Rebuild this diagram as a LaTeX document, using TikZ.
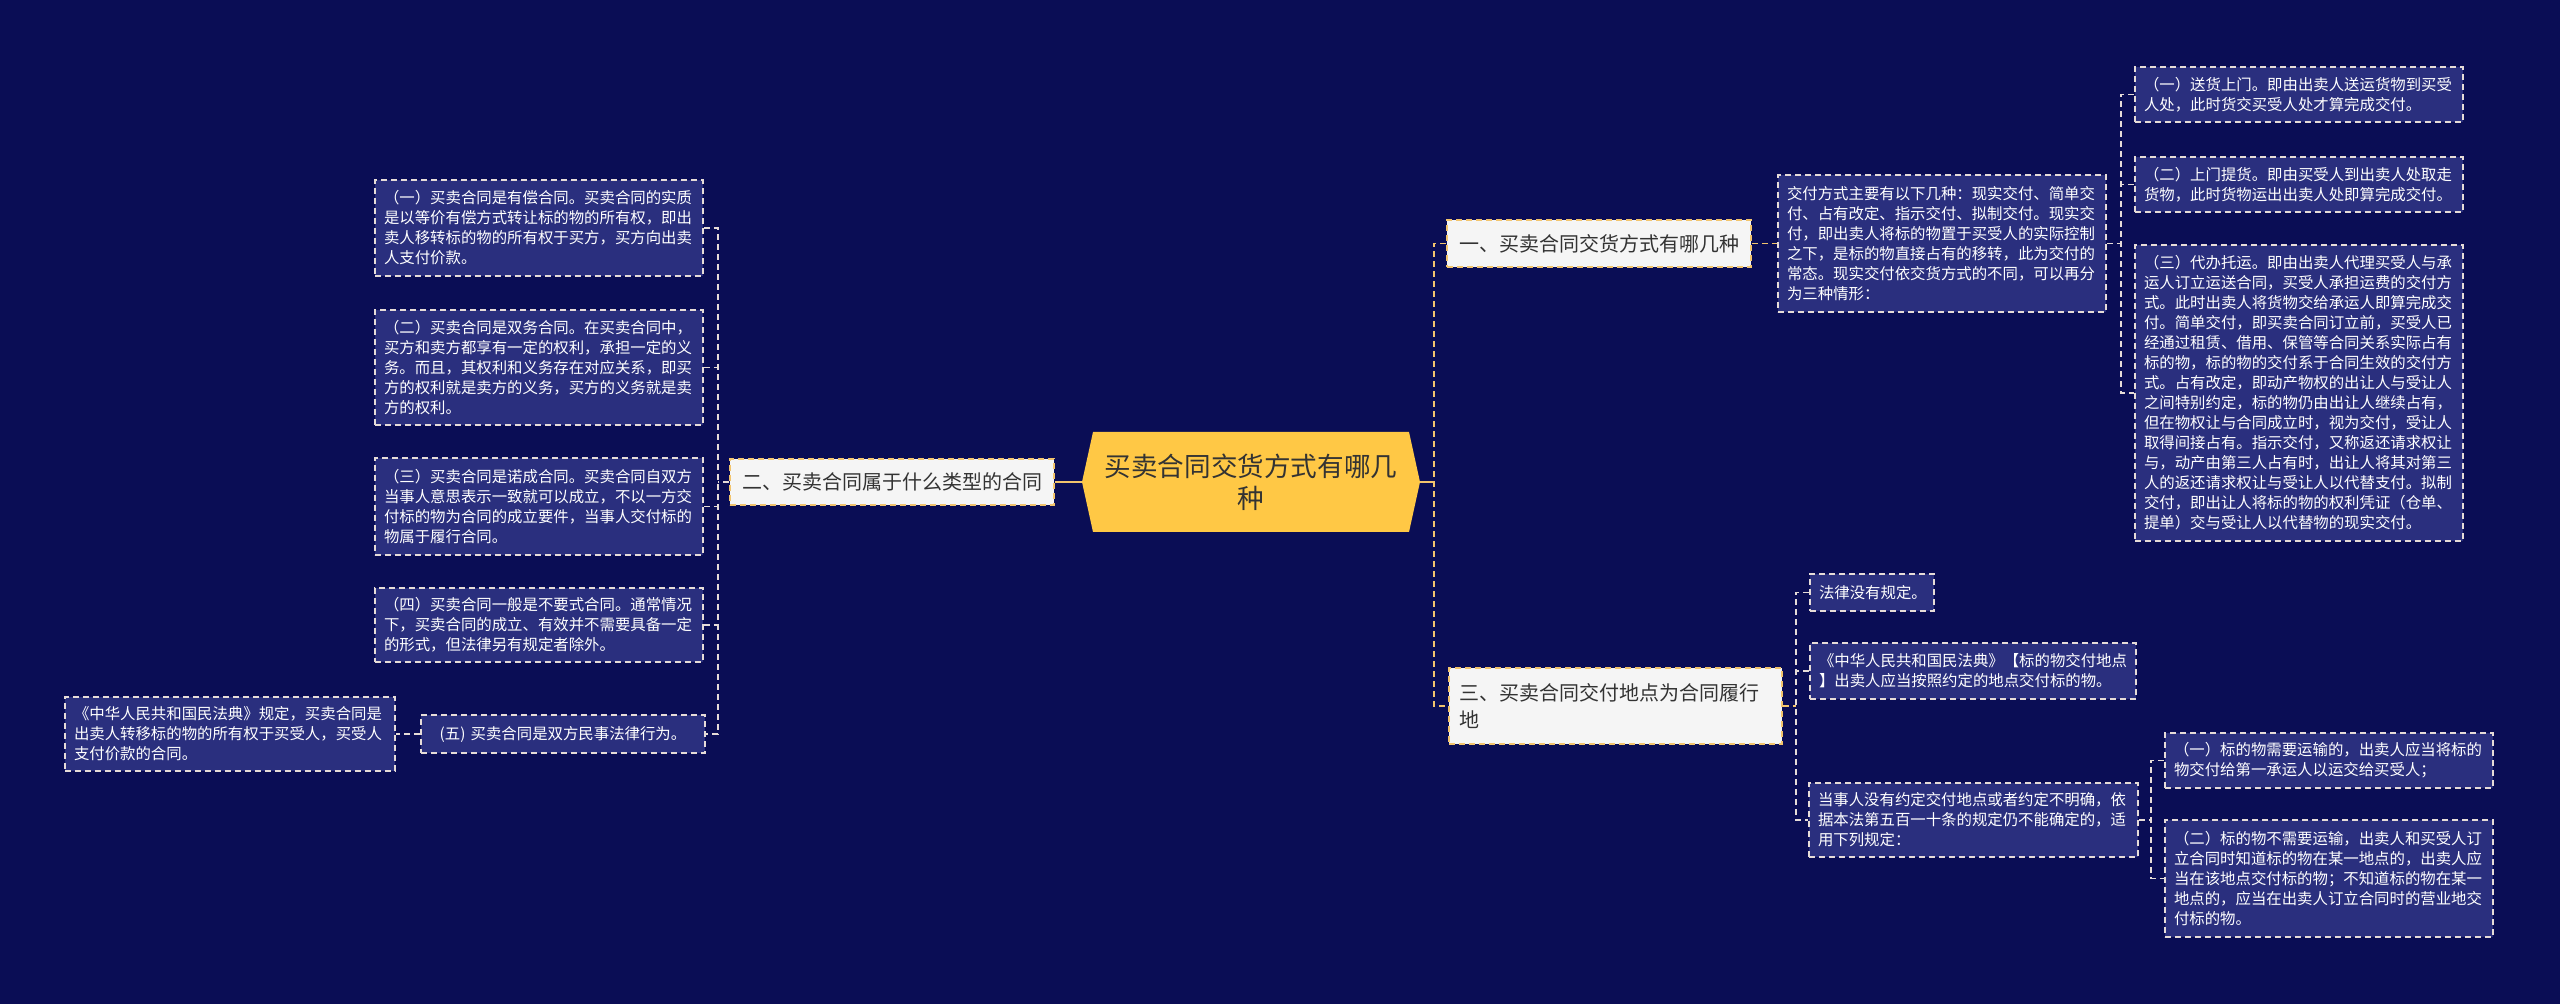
\documentclass[tikz,border=0pt]{standalone}
\usepackage{fontspec}
\newfontfamily\cjk{Noto Sans CJK SC}
\definecolor{bgc}{HTML}{0A0D55}
\definecolor{leaffill}{HTML}{2A2F7E}
\definecolor{leafline}{HTML}{E6DCD8}
\definecolor{gold}{HTML}{F2C46D}
\definecolor{centerfill}{HTML}{FFC845}
\definecolor{mainfill}{HTML}{F5F5F5}
\definecolor{darktext}{HTML}{333333}
\tikzset{
 leaf/.style={draw=leafline, dash pattern=on 3pt off 2pt, line width=0.8pt, fill=leaffill, text=white, font=\cjk\fontsize{7.7}{10}\selectfont, align=left, inner xsep=4.5pt, inner ysep=0pt},
 leafc/.style={leaf, align=center},
 mainbox/.style={draw=gold, dash pattern=on 3pt off 2pt, line width=0.8pt, fill=mainfill, text=darktext, font=\cjk\fontsize{10}{13.5}\selectfont, align=left, inner xsep=5pt, inner ysep=0pt},
 mainc/.style={mainbox, align=center},
 lconn/.style={draw=leafline, dash pattern=on 3pt off 2pt, line width=0.8pt},
 gconn/.style={draw=gold, dash pattern=on 3pt off 2pt, line width=0.9pt},
 cconn/.style={draw=gold, line width=1pt},
}
\newcommand\leafnode[7]{%
 \pgfmathsetmacro\lnW{(#5-#3)*0.5}%
 \pgfmathsetmacro\lnH{(#6-#4)*0.5}%
 \pgfmathsetmacro\lnT{(#5-#3)*0.5-9}%
 \node[#1, minimum width=\lnW pt, minimum height=\lnH pt, text width=\lnT pt] (#2) at ({(#3+#5)/2},{(#4+#6)/2}) {#7};%
}
\begin{document}
\begin{tikzpicture}[x=0.5pt,y=-0.5pt]
\useasboundingbox (0,0) rectangle (2560,1004);
\fill[bgc] (0,0) rectangle (2560,1004);

% central node
\fill[centerfill] (1093,432) -- (1409,432) -- (1420,482) -- (1409,532) -- (1093,532) -- (1082,482) -- cycle;
\node[font=\cjk\fontsize{13.3}{16}\selectfont, text=darktext, align=center, minimum width=169pt, minimum height=50pt, inner sep=0pt] (center) at (1251,482) {买卖合同交货方式有哪几\\种};

% main nodes
\leafnode{mainc}{two}{731}{459}{1053}{505}{二、买卖合同属于什么类型的合同}
\leafnode{mainc}{one}{1448}{220}{1750}{267}{一、买卖合同交货方式有哪几种}
\leafnode{mainbox}{three}{1450}{668}{1781}{744}{三、买卖合同交付地点为合同履行\\地}

% left leaves
\leafnode{leaf}{b1}{375}{180}{703}{276}{（一）买卖合同是有偿合同。买卖合同的实质\\是以等价有偿方式转让标的物的所有权，即出\\卖人移转标的物的所有权于买方，买方向出卖\\人支付价款。}
\leafnode{leaf}{b2}{375}{310}{703}{425}{（二）买卖合同是双务合同。在买卖合同中，\\买方和卖方都享有一定的权利，承担一定的义\\务。而且，其权利和义务存在对应关系，即买\\方的权利就是卖方的义务，买方的义务就是卖\\方的权利。}
\leafnode{leaf}{b3}{375}{458}{703}{555}{（三）买卖合同是诺成合同。买卖合同自双方\\当事人意思表示一致就可以成立，不以一方交\\付标的物为合同的成立要件，当事人交付标的\\物属于履行合同。}
\leafnode{leaf}{b4}{375}{588}{703}{662}{（四）买卖合同一般是不要式合同。通常情况\\下，买卖合同的成立、有效并不需要具备一定\\的形式，但法律另有规定者除外。}
\leafnode{leafc}{b5}{421}{715}{705}{753}{(五) 买卖合同是双方民事法律行为。}
\leafnode{leaf}{b6}{65}{697}{395}{771}{《中华人民共和国民法典》规定，买卖合同是\\出卖人转移标的物的所有权于买受人，买受人\\支付价款的合同。}

% right leaves of one
\leafnode{leaf}{r1}{1778}{175}{2106}{312}{交付方式主要有以下几种：现实交付、简单交\\付、占有改定、指示交付、拟制交付。现实交\\付，即出卖人将标的物置于买受人的实际控制\\之下，是标的物直接占有的移转，此为交付的\\常态。现实交付依交货方式的不同，可以再分\\为三种情形：}
\leafnode{leaf}{r11}{2135}{67}{2463}{122}{（一）送货上门。即由出卖人送运货物到买受\\人处，此时货交买受人处才算完成交付。}
\leafnode{leaf}{r12}{2135}{157}{2463}{212}{（二）上门提货。即由买受人到出卖人处取走\\货物，此时货物运出出卖人处即算完成交付。}
\leafnode{leaf}{r13}{2135}{245}{2463}{541}{（三）代办托运。即由出卖人代理买受人与承\\运人订立运送合同，买受人承担运费的交付方\\式。此时出卖人将货物交给承运人即算完成交\\付。简单交付，即买卖合同订立前，买受人已\\经通过租赁、借用、保管等合同关系实际占有\\标的物，标的物的交付系于合同生效的交付方\\式。占有改定，即动产物权的出让人与受让人\\之间特别约定，标的物仍由出让人继续占有，\\但在物权让与合同成立时，视为交付，受让人\\取得间接占有。指示交付，又称返还请求权让\\与，动产由第三人占有时，出让人将其对第三\\人的返还请求权让与受让人以代替支付。拟制\\交付，即出让人将标的物的权利凭证（仓单、\\提单）交与受让人以代替物的现实交付。}

% right leaves of three
\leafnode{leaf}{r2}{1810}{574}{1934}{611}{法律没有规定。}
\leafnode{leaf}{r3}{1810}{643}{2136}{699}{《中华人民共和国民法典》【标的物交付地点\\】出卖人应当按照约定的地点交付标的物。}
\leafnode{leaf}{r4}{1809}{783}{2138}{857}{当事人没有约定交付地点或者约定不明确，依\\据本法第五百一十条的规定仍不能确定的，适\\用下列规定：}
\leafnode{leaf}{r41}{2165}{733}{2493}{788}{（一）标的物需要运输的，出卖人应当将标的\\物交付给第一承运人以运交给买受人；}
\leafnode{leaf}{r42}{2165}{820}{2493}{937}{（二）标的物不需要运输，出卖人和买受人订\\立合同时知道标的物在某一地点的，出卖人应\\当在该地点交付标的物；不知道标的物在某一\\地点的，应当在出卖人订立合同时的营业地交\\付标的物。}

% connectors: left
\coordinate (LT) at (718,482);
\draw[cconn] (center.west) -- (two.east);
\draw[lconn] (two.west) -- (LT);
\draw[lconn] (b1.east) -- (b1.east -| LT) -- (b5.east -| LT) -- (b5.east);
\foreach \n in {b2,b3,b4} \draw[lconn] (\n.east) -- (\n.east -| LT);
\draw[lconn] (b5.west) -- (b6.east);

% connectors: right
\coordinate (RT) at (1434,482);
\draw[cconn] (center.east) -- (RT);
\draw[gconn] (one.west) -- (one.west -| RT) -- (three.west -| RT) -- (three.west);
\draw[gconn] (one.east) -- (r1.west);
\coordinate (ST1) at (2121,243.5);
\draw[lconn] (r1.east) -- (ST1);
\draw[lconn] (r11.west) -- (r11.west -| ST1) -- (r13.west -| ST1) -- (r13.west);
\draw[lconn] (r12.west) -- (r12.west -| ST1);

\coordinate (ST2) at (1796,706);
\draw[gconn] (three.east) -- (ST2);
\draw[lconn] (r2.west) -- (r2.west -| ST2) -- (r4.west -| ST2) -- (r4.west);
\draw[lconn] (r3.west) -- (r3.west -| ST2);
\coordinate (ST3) at (2151,820);
\draw[lconn] (r4.east) -- (ST3);
\draw[lconn] (r41.west) -- (r41.west -| ST3) -- (r42.west -| ST3) -- (r42.west);
\end{tikzpicture}
\end{document}
